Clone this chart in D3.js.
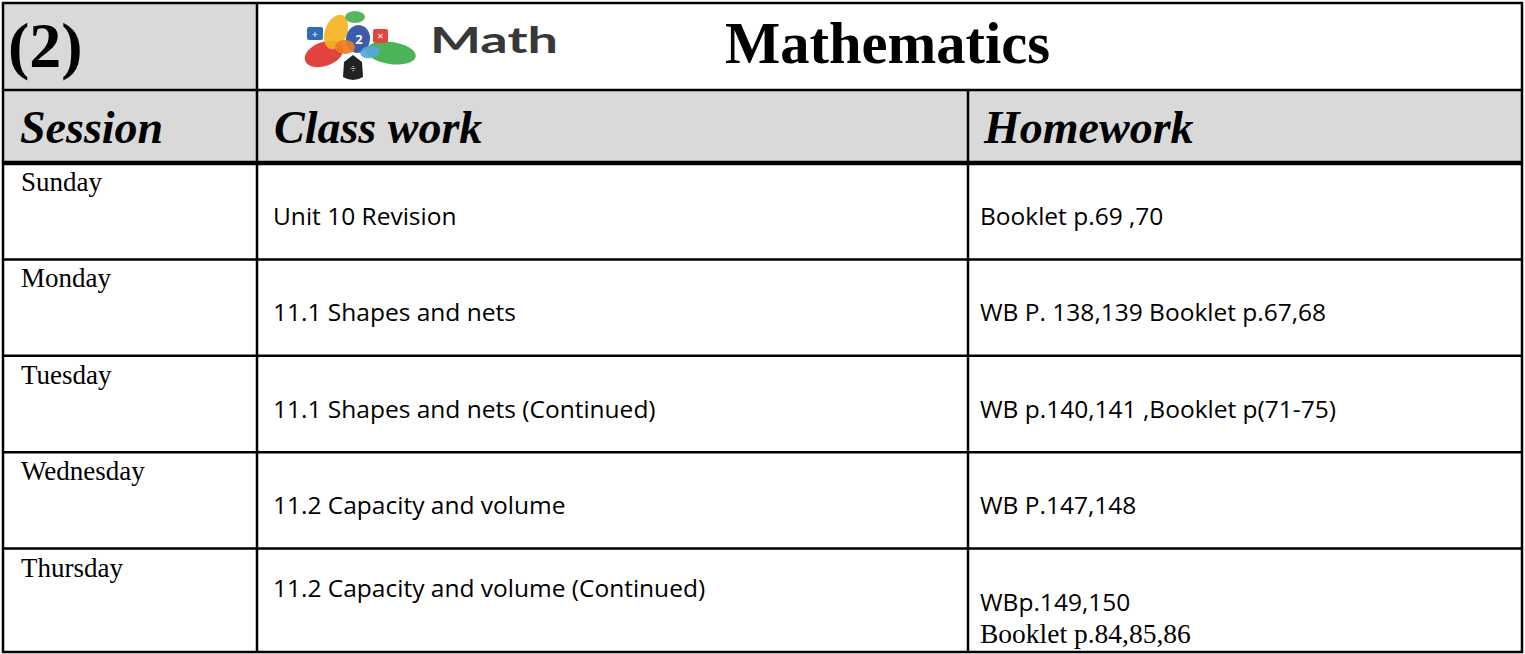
<!DOCTYPE html>
<html>
<head>
<meta charset="utf-8">
<script src="https://cdn.jsdelivr.net/npm/d3@7"></script>
<style>
  body { margin: 0; background: #fff; }
</style>
</head>
<body>
<div id="chart"></div>
<script>
'use strict';

// table content
var badge = "(2)";
var subject = "Mathematics";
var logoWord = "Math";
var headers = ["Session", "Class work", "Homework"];
var days = ["Sunday", "Monday", "Tuesday", "Wednesday", "Thursday"];
var classwork = [
	"Unit 10 Revision",
	"11.1 Shapes and nets",
	"11.1 Shapes and nets (Continued)",
	"11.2 Capacity and volume",
	"11.2 Capacity and volume (Continued)"
];
var homework = [
	["Booklet p.69 ,70"],
	["WB P. 138,139 Booklet p.67,68"],
	["WB p.140,141 ,Booklet p(71-75)"],
	["WB P.147,148"],
	["WBp.149,150", "Booklet p.84,85,86"]
];

// layout
var W = 1525, H = 654;
var tLeft = 3, tTop = 3, tRight = 1522, tBottom = 652;
var colWidths = [254, 711, 554];
var titleBottom = 90, headBottom = 163;
var serif = "'Liberation Serif', 'Times New Roman', serif";
var sans = "'Open Sans', 'Noto Sans', sans-serif";
var grey = "#d9d9d9";

var colEdges = [tLeft].concat(Array.from(d3.cumsum(colWidths), function(d) { return tLeft + d; }));
var col = d3.scaleOrdinal().domain(headers).range(colEdges.slice(0, 3));

var row = d3.scaleBand()
	.domain(days)
	.range([headBottom, 645]);

var svg = d3.select("#chart")
	.append("svg")
	.attr("width", W)
	.attr("height", H);

// title row
svg.append("rect")
	.attr("x", tLeft).attr("y", tTop)
	.attr("width", colWidths[0]).attr("height", titleBottom - tTop)
	.attr("fill", grey);

svg.append("text")
	.attr("x", tLeft + 5).attr("y", 67)
	.attr("font-family", serif).attr("font-weight", "bold")
	.attr("font-size", 64)
	.text(badge);

svg.append("text")
	.attr("x", 725).attr("y", 63)
	.attr("font-family", serif).attr("font-weight", "bold")
	.attr("font-size", 58.5)
	.text(subject);

// logo: little cluster of coloured petals next to the word
var logo = svg.append("g").attr("transform", "translate(305,9)");
var petals = [
	{ cx: 19, cy: 45, rx: 20, ry: 12, rot: -20, fill: "#e0332b" },
	{ cx: 86, cy: 44, rx: 25, ry: 11, rot: 8, fill: "#3cae49" },
	{ cx: 31, cy: 23, rx: 11, ry: 18, rot: 20, fill: "#f4b322" },
	{ cx: 50, cy: 8, rx: 10, ry: 6, rot: 0, fill: "#4caf50" },
	{ cx: 53, cy: 30, rx: 12, ry: 14, rot: 10, fill: "#2b4ea2" },
	{ cx: 65, cy: 43, rx: 10, ry: 6, rot: -10, fill: "#56a7dc" },
	{ cx: 40, cy: 38, rx: 10, ry: 7, rot: 0, fill: "#ef7d22" }
];
logo.selectAll("ellipse")
	.data(petals)
	.enter()
	.append("ellipse")
	.attr("cx", function(d) { return d.cx; })
	.attr("cy", function(d) { return d.cy; })
	.attr("rx", function(d) { return d.rx; })
	.attr("ry", function(d) { return d.ry; })
	.attr("transform", function(d) { return "rotate(" + d.rot + "," + d.cx + "," + d.cy + ")"; })
	.attr("fill", function(d) { return d.fill; })
	.attr("opacity", 0.92);
logo.append("rect").attr("x", 2).attr("y", 18).attr("width", 16).attr("height", 13)
	.attr("rx", 2).attr("fill", "#2e6db4");
logo.append("rect").attr("x", 68).attr("y", 20).attr("width", 15).attr("height", 14)
	.attr("rx", 2).attr("fill", "#e2453c");
logo.append("path")
	.attr("d", "M39,53 L48,46 L57,53 L58,68 Q48,74 38,68 Z")
	.attr("fill", "#222");
logo.append("text").attr("x", 48).attr("y", 64).attr("text-anchor", "middle")
	.attr("font-family", sans).attr("font-size", 10).attr("fill", "#fff").text("÷");
logo.append("text").attr("x", 10).attr("y", 29).attr("text-anchor", "middle")
	.attr("font-family", sans).attr("font-size", 11).attr("fill", "#fff").text("+");
logo.append("text").attr("x", 75.5).attr("y", 31).attr("text-anchor", "middle")
	.attr("font-family", sans).attr("font-size", 11).attr("fill", "#fff").text("×");
logo.append("text").attr("x", 54).attr("y", 35).attr("text-anchor", "middle")
	.attr("font-family", sans).attr("font-size", 13).attr("font-weight", "bold").attr("fill", "#fff").text("2");

svg.append("text")
	.attr("x", 430).attr("y", 53)
	.attr("font-family", "Lato, 'Open Sans', sans-serif").attr("font-weight", "bold")
	.attr("font-size", 36)
	.attr("textLength", 128).attr("lengthAdjust", "spacingAndGlyphs")
	.attr("fill", "#383838")
	.text(logoWord);

// header row
svg.append("rect")
	.attr("x", tLeft).attr("y", titleBottom)
	.attr("width", tRight - tLeft).attr("height", headBottom - titleBottom)
	.attr("fill", grey);

svg.selectAll(".head")
	.data(headers)
	.enter()
	.append("text")
	.attr("class", "head")
	.attr("x", function(d, i) { return col(d) + (i === 2 ? 16 : 17); })
	.attr("y", 143)
	.attr("font-family", serif).attr("font-weight", "bold").attr("font-style", "italic")
	.attr("font-size", 46)
	.text(function(d) { return d; });

// body rows
var rowData = days.map(function(d, i) {
	return { day: d, work: classwork[i], hw: homework[i] };
});

var rows = svg.selectAll(".row")
	.data(rowData)
	.enter()
	.append("g")
	.attr("class", "row")
	.attr("transform", function(d) { return "translate(0," + row(d.day) + ")"; });

rows.append("text")
	.attr("x", col(headers[0]) + 18)
	.attr("y", 28)
	.attr("font-family", serif).attr("font-size", 27)
	.text(function(d) { return d.day; });

rows.append("text")
	.attr("x", col(headers[1]) + 16)
	.attr("y", function(d) { return d.hw.length > 1 ? 48 : 62; })
	.attr("font-family", sans).attr("font-size", 24.5)
	.text(function(d) { return d.work; });

rows.each(function(d) {
	d3.select(this).selectAll(".hw")
		.data(d.hw)
		.enter()
		.append("text")
		.attr("class", "hw")
		.attr("x", col(headers[2]) + 12)
		.attr("y", function(t, j) { return d.hw.length > 1 ? 62.5 + j * 31.5 : 62; })
		.attr("font-family", function(t, j) { return j > 0 ? serif : sans; })
		.attr("font-size", function(t, j) { return j > 0 ? 27.5 : 24.5; })
		.text(function(t) { return t; });
});

// grid lines
var hLines = [titleBottom].concat(days.slice(1).map(function(d) { return row(d); }));
svg.selectAll(".hline")
	.data(hLines)
	.enter()
	.append("line")
	.attr("x1", tLeft).attr("x2", tRight)
	.attr("y1", function(d) { return d; }).attr("y2", function(d) { return d; })
	.attr("stroke", "#000").attr("stroke-width", 2.5);

svg.append("line")
	.attr("x1", tLeft).attr("x2", tRight)
	.attr("y1", headBottom).attr("y2", headBottom)
	.attr("stroke", "#000").attr("stroke-width", 4.5);

svg.append("line")
	.attr("x1", colEdges[1]).attr("x2", colEdges[1])
	.attr("y1", tTop).attr("y2", tBottom)
	.attr("stroke", "#000").attr("stroke-width", 2.5);

svg.append("line")
	.attr("x1", colEdges[2]).attr("x2", colEdges[2])
	.attr("y1", titleBottom).attr("y2", tBottom)
	.attr("stroke", "#000").attr("stroke-width", 2.5);

svg.append("rect")
	.attr("x", tLeft).attr("y", tTop)
	.attr("width", tRight - tLeft).attr("height", tBottom - tTop)
	.attr("fill", "none")
	.attr("stroke", "#000").attr("stroke-width", 2.5);
</script>
</body>
</html>
